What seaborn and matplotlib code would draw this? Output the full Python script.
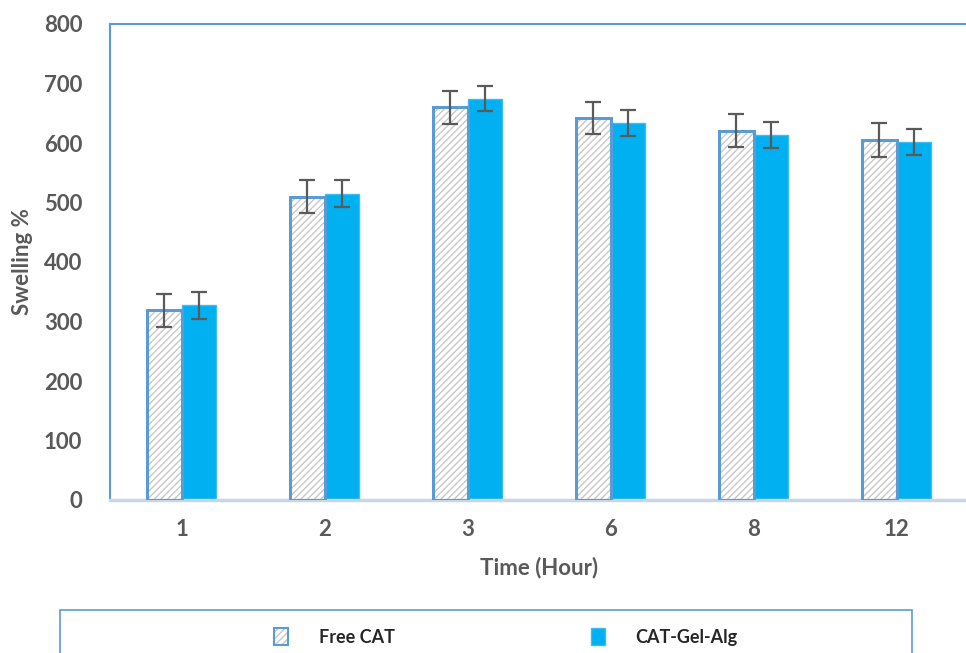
import numpy as np
import pandas as pd
import seaborn as sns
import matplotlib
matplotlib.use("Agg")
import matplotlib.pyplot as plt
from matplotlib.patches import Patch, Rectangle
from matplotlib.legend_handler import HandlerTuple

times = ["1", "2", "3", "6", "8", "12"]
series = ["Free CAT", "CAT-Gel-Alg"]
free_cat = [319, 510, 660, 642, 621, 605]
cat_gel_alg = [327, 515, 674, 633, 614, 601]
free_cat_err = [28, 27, 28, 27, 28, 28]
cat_gel_alg_err = [23, 22, 21, 22, 22, 22]
yticks = [0, 100, 200, 300, 400, 500, 600, 700, 800]

sns.set_theme(style="white")
plt.rcParams['font.family'] = ['Lato', 'DejaVu Sans']
plt.rcParams['hatch.linewidth'] = 1.0

df = pd.DataFrame({
    "Time": times * 2,
    "Series": [series[0]] * len(times) + [series[1]] * len(times),
    "Swelling": free_cat + cat_gel_alg,
})

fig = plt.figure(figsize=(9.66, 6.53), dpi=100)
ax = fig.add_axes([110 / 966, 153 / 653, 858 / 966, 476 / 653])

blue_edge = "#5b9bd5"
fill_blue = "#00b0f0"
hatch_gray = "#c8c8c8"
text_gray = "#595959"

sns.barplot(data=df, x="Time", y="Swelling", hue="Series", order=times,
            hue_order=series, palette=["white", fill_blue], width=0.48,
            errorbar=None, ax=ax, legend=False, saturation=1)

n = len(times)
patches = list(ax.patches)
free_patches = patches[:n]
cat_patches = patches[n:2 * n]

for p in free_patches:
    p.set_facecolor("white")
    p.set_hatch("/////")
    p.set_edgecolor(hatch_gray)
    p.set_linewidth(0)
    ax.add_patch(Rectangle((p.get_x(), p.get_y()), p.get_width(), p.get_height(),
                           fill=False, edgecolor=blue_edge, linewidth=2.2, zorder=3))
for p in cat_patches:
    p.set_edgecolor("#3fbdf0")
    p.set_linewidth(1.0)

for plist, vals, errs in [(free_patches, free_cat, free_cat_err),
                          (cat_patches, cat_gel_alg, cat_gel_alg_err)]:
    xs = [p.get_x() + p.get_width() / 2 for p in plist]
    ax.errorbar(xs, vals, yerr=errs, fmt="none", ecolor="#5a5a5a",
                elinewidth=1.6, capsize=6, capthick=1.6, zorder=4)

ax.set_ylim(0, 800)
ax.set_xlim(-0.5, n - 0.5)
ax.set_yticks(yticks)
ax.set_yticklabels([str(v) for v in yticks])
ax.tick_params(axis="both", length=0, labelsize=16, colors=text_gray)
for lab in ax.get_xticklabels() + ax.get_yticklabels():
    lab.set_fontweight("bold")
ax.tick_params(axis="y", pad=20)
ax.tick_params(axis="x", pad=14)

ax.set_xlabel("Time (Hour)", fontsize=16, fontweight="bold", color=text_gray, labelpad=12)
ax.set_ylabel("Swelling %", fontsize=16, fontweight="bold", color=text_gray, labelpad=8)

for side in ["left", "top", "right"]:
    ax.spines[side].set_color(blue_edge)
    ax.spines[side].set_linewidth(1.5)
ax.spines["bottom"].set_color("#c9d6e3")
ax.spines["bottom"].set_linewidth(2.5)

# Legend
h_free = (Patch(facecolor="white", hatch="/////", edgecolor=hatch_gray, linewidth=0),
          Patch(fill=False, edgecolor=blue_edge, linewidth=1.5))
h_cat = Patch(facecolor=fill_blue, edgecolor="#3fbdf0")
fig.patches.append(Rectangle((60 / 966, -0.05), 852 / 966, 0.05 + 43 / 653,
                             transform=fig.transFigure, fill=False,
                             edgecolor=blue_edge, linewidth=1.2))
leg = fig.legend([h_free, h_cat], series, ncol=2, frameon=False,
                 loc="center", bbox_to_anchor=(506 / 966, 1 - 637 / 653),
                 handler_map={tuple: HandlerTuple(ndivide=1, pad=0)},
                 handlelength=0.75, handleheight=1.0, columnspacing=10.9,
                 handletextpad=1.7, prop={"size": 13, "weight": "bold"})

fig.savefig("out.png", dpi=100)
